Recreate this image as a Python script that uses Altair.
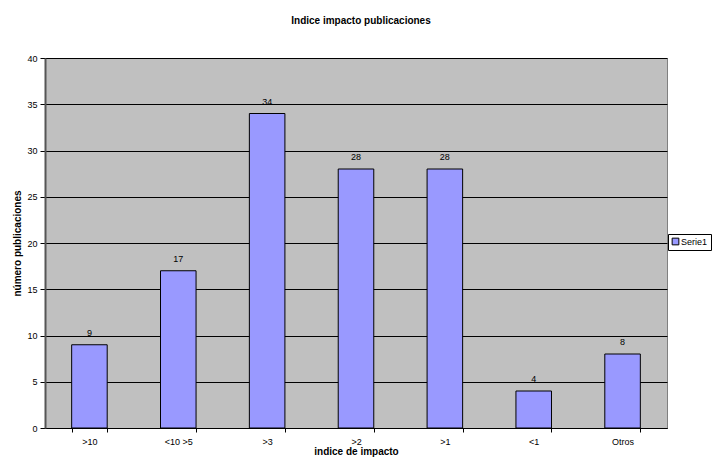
import altair as alt
import pandas as pd

categories = [">10", "<10 >5", ">3", ">2", ">1", "<1", "Otros"]
values = [9, 17, 34, 28, 28, 4, 8]
series = ["Serie1"] * len(categories)

df = pd.DataFrame({"cat": categories, "val": values, "serie": series})

FONT = "Liberation Sans"

x = alt.X("cat:N", sort=categories, title="indice de impacto",
          scale=alt.Scale(paddingInner=0.6, paddingOuter=0.3),
          axis=alt.Axis(labelAngle=0, tickBand="extent", grid=False,
                        domainColor="#000000", domainWidth=1,
                        tickColor="#000000", tickSize=4, labelPadding=5,
                        labelFontSize=9, labelColor="#000000", labelFont=FONT,
                        titleFontSize=10, titleFont=FONT, titleFontWeight="bold",
                        titleColor="#000000", titlePadding=0))
y = alt.Y("val:Q", title="número publicaciones",
          scale=alt.Scale(domain=[0, 40]),
          axis=alt.Axis(values=list(range(0, 41, 5)), grid=True,
                        gridColor="#000000", gridWidth=1, gridOpacity=1,
                        domainColor="#555555", domainWidth=2,
                        tickColor="#000000", tickSize=5,
                        labelFontSize=9, labelColor="#000000", labelFont=FONT,
                        labelPadding=3,
                        titleFontSize=10, titleFont=FONT, titleFontWeight="bold",
                        titleColor="#000000", titlePadding=4))

bars = alt.Chart(df).mark_bar(stroke="#000000", strokeWidth=1).encode(
    x=x, y=y,
    color=alt.Color("serie:N", scale=alt.Scale(range=["#9999FF"]),
                    legend=alt.Legend(title=None, orient="none", legendX=623, legendY=176,
                                      symbolType="square", symbolSize=45,
                                      symbolStrokeColor="#000000", symbolStrokeWidth=1,
                                      labelFontSize=9, labelFont=FONT, labelColor="#000000",
                                      strokeColor="#000000", padding=3,
                                      fillColor="#ffffff", labelOffset=1))
)

labels = alt.Chart(df).mark_text(baseline="bottom", dy=-7, fontSize=9, font=FONT,
                                 color="#000000").encode(
    x=alt.X("cat:N", sort=categories), y="val:Q", text="val:Q")

chart = alt.layer(bars, labels).properties(
    width=622, height=370,
    autosize=alt.AutoSizeParams(type="none"),
    padding={"left": 37, "top": 50, "right": 46, "bottom": 30},
    background="#ffffff",
    title=alt.TitleParams("Indice impacto publicaciones", fontSize=10, font=FONT,
                          fontWeight="bold", color="#000000", offset=28, dx=5,
                          anchor="middle"),
).configure_view(fill="#C0C0C0", stroke="#808080", strokeWidth=1)

chart.save("out.html", embed_options={"renderer": "svg", "actions": False})
